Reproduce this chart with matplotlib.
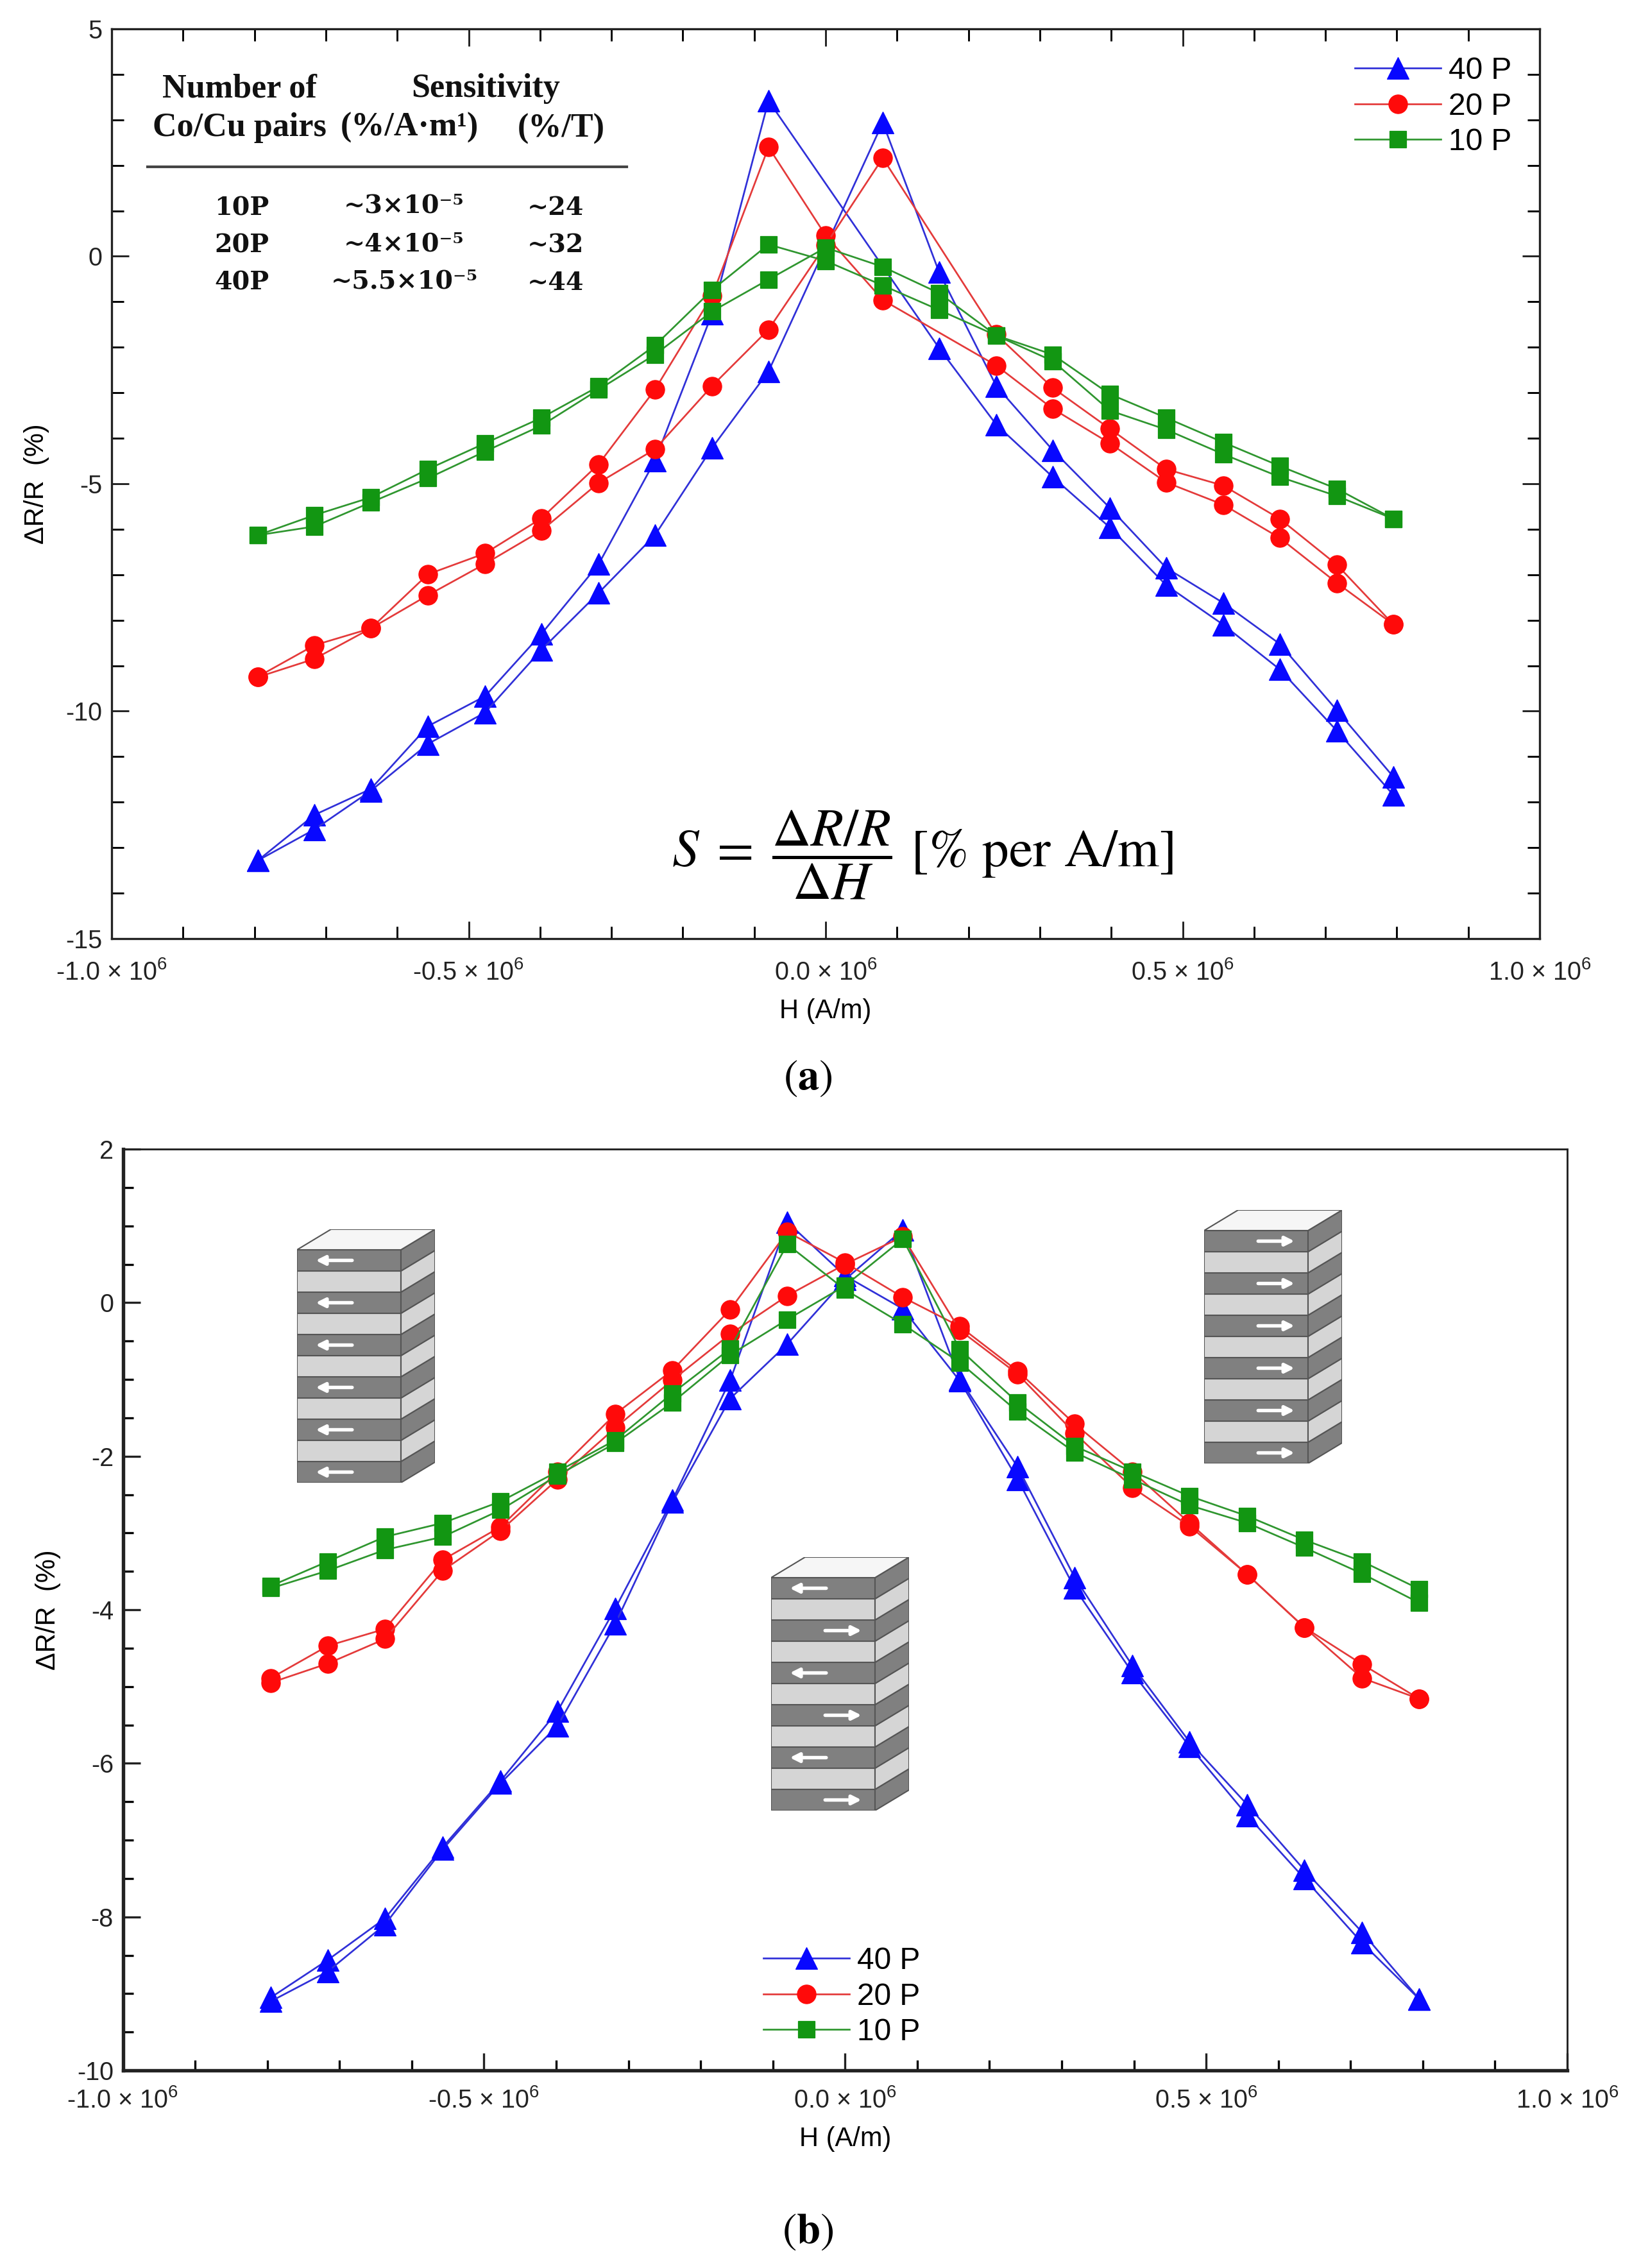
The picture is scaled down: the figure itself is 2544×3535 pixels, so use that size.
import numpy as np
import matplotlib
matplotlib.use("Agg")
import matplotlib.pyplot as plt
from matplotlib.ticker import MultipleLocator
from matplotlib.patches import Polygon, Rectangle

plt.rcParams['font.family'] = ['Liberation Sans', 'DejaVu Sans']
plt.rcParams['mathtext.fontset'] = 'custom'
plt.rcParams['mathtext.rm'] = 'Liberation Sans'
plt.rcParams['mathtext.it'] = 'Liberation Sans:italic'
plt.rcParams['mathtext.bf'] = 'Liberation Sans:bold'
plt.rcParams['axes.unicode_minus'] = False

# applied field, A/m
H = np.array([-795, -716, -637, -557, -477, -398, -318, -239, -159, -80, 0,
              80, 159, 239, 318, 398, 477, 557, 636, 716, 795]) * 1e3
nan = np.nan

# (a) dR/R in %, branch with peak at negative field / positive field
a_40p_dn = [-13.28, -12.28, -11.71, -10.33, -9.67, -8.30, -6.77, -4.49, -1.26, 3.42, nan,
            nan, -2.02, -3.70, -4.85, -5.96, -7.23, -8.10, -9.08, -10.43, -11.84]
a_40p_up = [-13.28, -12.60, -11.75, -10.72, -10.03, -8.65, -7.40, -6.13, -4.21, -2.53, nan,
            2.94, -0.35, -2.85, -4.26, -5.53, -6.85, -7.62, -8.52, -9.98, -11.44]
a_20p_dn = [-9.24, -8.55, -8.18, -6.99, -6.53, -5.76, -4.57, -2.93, -0.87, 2.40, 0.46,
            -0.96, nan, -2.40, -3.35, -4.11, -4.97, -5.46, -6.19, -7.18, -8.09]
a_20p_up = [-9.25, -8.85, -8.18, -7.45, -6.76, -6.03, -4.98, -4.24, -2.85, -1.61, 0.25,
            2.16, nan, -1.72, -2.89, -3.79, -4.68, -5.04, -5.77, -6.78, -8.09]
a_10p_dn = [-6.13, -5.69, -5.30, -4.68, -4.11, -3.55, -2.86, -1.96, -0.74, 0.26, -0.10,
            -0.64, -1.18, -1.74, -2.30, -3.39, -3.81, -4.35, -4.85, -5.27, -5.77]
a_10p_up = [-6.13, -5.94, -5.41, -4.88, -4.29, -3.72, -2.93, -2.16, -1.21, -0.51, 0.19,
            -0.23, -0.81, -1.74, -2.16, -3.03, -3.55, -4.09, -4.61, -5.11, -5.77]

# (b)
b_40p_dn = [-9.05, -8.56, -8.02, -7.09, -6.23, -5.32, -3.98, -2.57, -1.01, 1.05, 0.35,
            -0.08, -1.02, -2.30, -3.72, -4.82, -5.78, -6.68, -7.50, -8.34, -9.07]
b_40p_up = [-9.10, -8.71, -8.10, -7.12, -6.26, -5.51, -4.18, -2.60, -1.25, -0.54, 0.30,
            0.95, -1.00, -2.14, -3.58, -4.73, -5.72, -6.54, -7.39, -8.20, -9.07]
b_20p_dn = [-4.89, -4.47, -4.25, -3.35, -2.92, -2.20, -1.45, -0.88, -0.09, 0.92, 0.52,
            0.07, -0.31, -0.89, -1.58, -2.20, -2.87, -3.54, -4.23, -4.71, -5.16]
b_20p_up = [-4.95, -4.70, -4.38, -3.49, -2.97, -2.30, -1.63, -1.01, -0.41, 0.09, 0.50,
            0.86, -0.36, -0.93, -1.70, -2.41, -2.91, -3.54, -4.23, -4.89, -5.16]
b_10p_dn = [-3.69, -3.37, -3.05, -2.87, -2.59, -2.20, -1.79, -1.18, -0.60, 0.76, 0.17,
            -0.28, -0.78, -1.42, -1.95, -2.30, -2.64, -2.87, -3.19, -3.53, -3.91]
b_10p_up = [-3.72, -3.49, -3.22, -3.05, -2.70, -2.25, -1.83, -1.30, -0.68, -0.22, 0.22,
            0.83, -0.61, -1.30, -1.87, -2.20, -2.52, -2.78, -3.09, -3.37, -3.73]

labels = ['40 P', '20 P', '10 P']
line_colors = ['#3030d8', '#e43a3a', '#2f962f']
marker_colors = ['#0808ff', '#ff0a0a', '#129612']
markers = ['^', 'o', 's']
msizes = [8, 7, 6.2]

xtick_vals = [-1e6, -0.5e6, 0, 0.5e6, 1e6]
xtick_labels = ['-1.0 × 10$^6$', '-0.5 × 10$^6$', '0.0 × 10$^6$', '0.5 × 10$^6$', '1.0 × 10$^6$']

W, Hpx = 2544, 3535


def fx(x):
    return x / W


def fy(y):
    return 1 - y / Hpx


def draw_panel(ax, data):
    for i, (dn, up) in enumerate(data):
        for k, yy in enumerate((dn, up)):
            yy = np.array(yy, dtype=float)
            m = ~np.isnan(yy)
            ax.plot(H[m], yy[m], color=line_colors[i], lw=0.65,
                    marker=markers[i], ms=msizes[i], mfc=marker_colors[i],
                    mec=marker_colors[i], mew=0.3,
                    label=labels[i] if k == 0 else None)
    ax.set_xlim(-1e6, 1e6)
    ax.set_xticks(xtick_vals, labels=xtick_labels)
    ax.xaxis.set_minor_locator(MultipleLocator(1e5))
    ax.set_xlabel('H (A/m)', fontsize=10, labelpad=5)
    ax.set_ylabel('ΔR/R  (%)', fontsize=10, labelpad=6)
    ax.tick_params(labelsize=9.5, colors='#222222')


fig = plt.figure(figsize=(W / 300, Hpx / 300), dpi=300)

# ---- (a)
ax1 = fig.add_axes([fx(174), fy(1463), (2400 - 174) / W, (1463 - 45) / Hpx])
draw_panel(ax1, [(a_40p_dn, a_40p_up), (a_20p_dn, a_20p_up), (a_10p_dn, a_10p_up)])
ax1.set_ylim(-15, 5)
ax1.yaxis.set_major_locator(MultipleLocator(5))
ax1.yaxis.set_minor_locator(MultipleLocator(1))
ax1.tick_params(which='both', direction='in', top=True, right=True)
ax1.tick_params(which='major', length=6.5, width=0.7)
ax1.tick_params(which='minor', length=4.5, width=0.7)
ax1.tick_params(axis='x', which='major', pad=8)
for s in ax1.spines.values():
    s.set_linewidth(0.8)
    s.set_color('#222222')
ax1.legend(loc='upper left', bbox_to_anchor=(fx(2112), fy(88)), bbox_transform=fig.transFigure,
           frameon=False, fontsize=11.5, handlelength=2.8, handletextpad=0.25,
           labelspacing=0.22, borderpad=0, borderaxespad=0)

# sensitivity table
hdr = dict(fontfamily='Liberation Serif', fontweight='bold', fontsize=12.5,
           ha='center', va='center', color='#111111')
fig.text(fx(373), fy(138), 'Number of', **hdr)
fig.text(fx(757), fy(138), 'Sensitivity', **hdr)
fig.text(fx(373), fy(199), 'Co/Cu pairs', **hdr)
fig.text(fx(638), fy(199), '(%/A·m¹)', **hdr)
fig.text(fx(875), fy(201), '(%/T)', **hdr)
ax1.plot([(230 - 174) / 2226, (977 - 174) / 2226], [0.8484, 0.8484],
         transform=ax1.transAxes, color='#444444', lw=1.0)
row = dict(fontfamily='DejaVu Serif', fontweight='bold', fontsize=9.5,
           ha='center', va='center', color='#111111')
pairs = ['10P', '20P', '40P']
sens_am = ['~3×10⁻⁵', '~4×10⁻⁵', '~5.5×10⁻⁵']
sens_t = ['~24', '~32', '~44']
for j, yy in enumerate([324, 383, 441]):
    fig.text(fx(377), fy(yy), pairs[j], **row)
    fig.text(fx(630), fy(yy - 3), sens_am[j], **row)
    fig.text(fx(866), fy(yy), sens_t[j], **row)

fig.text(fx(1438), fy(1332), r'$S\;=\;\dfrac{\Delta R/R}{\Delta H}$ [% per A/m]',
         fontfamily='STIXGeneral', math_fontfamily='stix', fontsize=20,
         ha='center', va='center')

fig.text(fx(1259), fy(1682), r'($\mathbf{a}$)', fontfamily='STIXGeneral',
         math_fontfamily='stix', fontsize=16, ha='center', va='center')

# ---- (b)
ax2 = fig.add_axes([fx(191.5), fy(3227), (2443 - 191.5) / W, (3227 - 1791) / Hpx])
draw_panel(ax2, [(b_40p_dn, b_40p_up), (b_20p_dn, b_20p_up), (b_10p_dn, b_10p_up)])
ax2.set_ylim(-10, 2)
ax2.yaxis.set_major_locator(MultipleLocator(2))
ax2.yaxis.set_minor_locator(MultipleLocator(0.5))
ax2.tick_params(which='both', direction='in')
ax2.tick_params(which='major', length=6.5, width=0.8)
ax2.tick_params(which='minor', length=3.8, width=0.8)
ax2.tick_params(axis='x', which='major', pad=6.5)
for side, s in ax2.spines.items():
    s.set_color('#222222')
    s.set_linewidth(1.3 if side in ('left', 'bottom') else 0.7)
ax2.legend(loc='upper left', bbox_to_anchor=(fx(1190), fy(3034)), bbox_transform=fig.transFigure,
           frameon=False, fontsize=11.5, handlelength=2.8, handletextpad=0.25,
           labelspacing=0.22, borderpad=0, borderaxespad=0)

fig.text(fx(1259), fy(3480), r'($\mathbf{b}$)', fontfamily='STIXGeneral',
         math_fontfamily='stix', fontsize=16, ha='center', va='center')


# multilayer sketches: front-left-bottom corner in pixels, arrow directions top->bottom
def draw_stack(x0, y0, dirs):
    fw, lh, n, dx, dy = 162, 33, 11, 53, 32
    fh = lh * n
    a = fig.add_axes([fx(x0), fy(y0), (fw + dx) / W, (fh + dy) / Hpx])
    a.set_xlim(0, fw + dx)
    a.set_ylim(0, fh + dy)
    a.axis('off')
    ec = '#555555'
    for i in range(n):
        c = '#808080' if i % 2 == 0 else '#d5d5d5'
        a.add_patch(Rectangle((0, i * lh), fw, lh, fc=c, ec=ec, lw=0.5))
        a.add_patch(Polygon([(fw, i * lh), (fw + dx, i * lh + dy), (fw + dx, (i + 1) * lh + dy),
                             (fw, (i + 1) * lh)], closed=True, fc=c, ec=ec, lw=0.5))
    a.add_patch(Polygon([(0, fh), (dx, fh + dy), (fw + dx, fh + dy), (fw, fh)],
                        closed=True, fc='#f6f6f6', ec=ec, lw=0.5))
    for k, d in enumerate(dirs):
        yc = (n - 1 - 2 * k) * lh + lh / 2
        if d < 0:
            tail, head = 0.53 * fw, 0.18 * fw
        else:
            tail, head = 0.52 * fw, 0.87 * fw
        a.annotate('', xy=(head, yc), xytext=(tail, yc),
                   arrowprops=dict(arrowstyle='-|>', color='white', lw=1.3,
                                   mutation_scale=7, shrinkA=0, shrinkB=0))


draw_stack(463, 2311, [-1, -1, -1, -1, -1, -1])
draw_stack(1877, 2281, [1, 1, 1, 1, 1, 1])
draw_stack(1202, 2822, [-1, 1, -1, 1, -1, 1])

fig.savefig('out.png', dpi=300, facecolor='white')
